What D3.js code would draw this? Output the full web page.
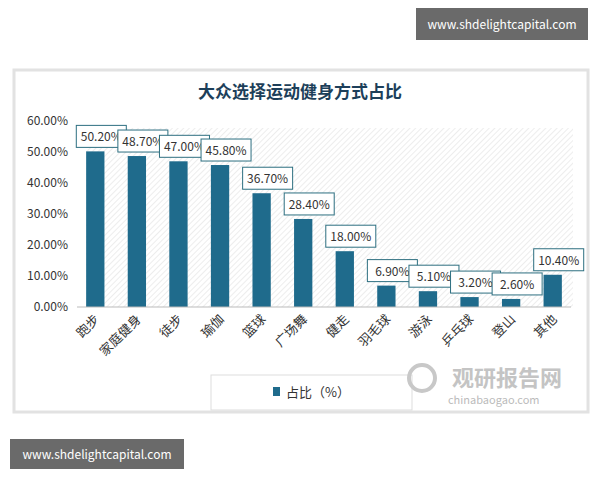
<!DOCTYPE html>
<html><head><meta charset="utf-8">
<script src="https://cdn.jsdelivr.net/npm/d3@7"></script>
<style>body{margin:0;background:#fff;font-family:"Noto Sans CJK SC","Noto Sans",sans-serif}</style>
</head><body>
<svg id="chart" width="600" height="480"></svg>
<script>
// Data
const categories = ["跑步","家庭健身","徒步","瑜伽","篮球","广场舞","健走","羽毛球","游泳","乒乓球","登山","其他"];
const values = [50.2, 48.7, 47.0, 45.8, 36.7, 28.4, 18.0, 6.9, 5.1, 3.2, 2.6, 10.4];
const yTicks = [0, 10, 20, 30, 40, 50, 60];

const svg = d3.select("#chart");
const teal = "#1f6b8c";

// card
svg.append("rect").attr("x", 14).attr("y", 70).attr("width", 574).attr("height", 342)
	.attr("fill", "#fff").attr("stroke", "#e2e2e2").attr("stroke-width", 3);

// hatch pattern
let defs = svg.append("defs");
let pat = defs.append("pattern").attr("id", "hatch").attr("patternUnits", "userSpaceOnUse")
	.attr("width", 4).attr("height", 4).attr("patternTransform", "rotate(45)");
pat.append("line").attr("x1", 0).attr("y1", 0).attr("x2", 0).attr("y2", 4)
	.attr("stroke", "#dcdcdc").attr("stroke-width", 1);

let x = d3.scaleBand().domain(categories).range([77, 571]).paddingInner(0.56).paddingOuter(0.22);
let y = d3.scaleLinear().domain([0, 60]).range([307, 121]);

svg.append("rect").attr("x", 86).attr("y", 128).attr("width", 487).attr("height", 179).attr("fill", "url(#hatch)");

// title
svg.append("text").attr("x", 300).attr("y", 98).attr("text-anchor", "middle")
	.attr("font-size", 17).attr("font-weight", "bold").attr("fill", "#1d3f5a").text("大众选择运动健身方式占比");

// y axis labels
svg.selectAll(".yt").data(yTicks).join("text")
	.attr("x", 68).attr("y", d => y(d) + 4).attr("text-anchor", "end")
	.attr("font-size", 12).attr("fill", "#333").text(d => d.toFixed(2) + "%");

// bars
svg.selectAll(".bar").data(values).join("rect")
	.attr("x", (d, i) => x(categories[i])).attr("width", x.bandwidth())
	.attr("y", d => y(d)).attr("height", d => y(0) - y(d)).attr("fill", teal);

// baseline
svg.append("line").attr("x1", 77).attr("x2", 571).attr("y1", 307).attr("y2", 307).attr("stroke", "#bbb");

// labels
let lab = svg.selectAll(".lab").data(values).join("g")
	.attr("transform", (d, i) => `translate(${x(categories[i]) + x.bandwidth() / 2 + 6},${y(d) - 15})`);
lab.append("rect").attr("x", -25).attr("y", -11).attr("width", 50).attr("height", 22)
	.attr("fill", "#fff").attr("stroke", "#2d6f80").attr("stroke-width", 1);
lab.append("text").attr("text-anchor", "middle").attr("y", 5).attr("font-size", 12)
	.attr("fill", "#333").text(d => d.toFixed(2) + "%");

// category labels
svg.selectAll(".cat").data(categories).join("text")
	.attr("transform", (d) => `translate(${x(d) + x.bandwidth() / 2 + 5},${320}) rotate(-45)`)
	.attr("text-anchor", "end").attr("font-size", 13).attr("fill", "#333").text(d => d);

// legend
svg.append("rect").attr("x", 211).attr("y", 375).attr("width", 201).attr("height", 35)
	.attr("fill", "#fff").attr("stroke", "#ddd");
svg.append("rect").attr("x", 273).attr("y", 387).attr("width", 7).attr("height", 9).attr("fill", teal);
svg.append("text").attr("x", 286).attr("y", 397).attr("font-size", 13).attr("fill", "#333").text("占比（%）");

// watermark
svg.append("circle").attr("cx", 422).attr("cy", 378).attr("r", 13).attr("fill", "none")
	.attr("stroke", "#c8c8c8").attr("stroke-width", 4);
svg.append("text").attr("x", 452).attr("y", 386).attr("font-size", 22).attr("font-weight", "bold")
	.attr("fill", "#c4c4c4").text("观研报告网");
svg.append("text").attr("x", 448).attr("y", 404).attr("font-size", 11).attr("fill", "#bbb").text("chinabaogao.com");

// site banners
svg.append("rect").attr("x", 416).attr("y", 8).attr("width", 172).attr("height", 32).attr("fill", "#6a6a6a");
svg.append("text").attr("x", 502).attr("y", 29).attr("text-anchor", "middle").attr("font-size", 12)
	.attr("fill", "#fff").text("www.shdelightcapital.com");
svg.append("rect").attr("x", 10).attr("y", 439).attr("width", 174).attr("height", 30).attr("fill", "#6a6a6a");
svg.append("text").attr("x", 97).attr("y", 459).attr("text-anchor", "middle").attr("font-size", 12)
	.attr("fill", "#fff").text("www.shdelightcapital.com");
</script>
</body></html>
